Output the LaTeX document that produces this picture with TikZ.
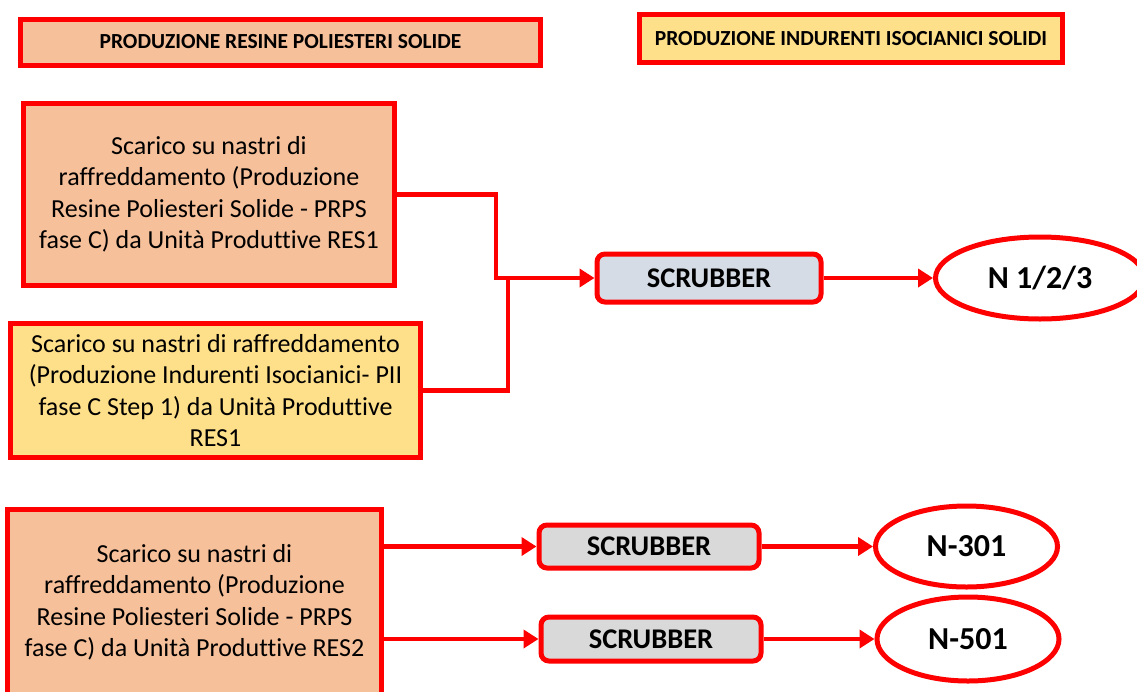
\documentclass[tikz,border=0pt]{standalone}
\usepackage{fontspec}
\setmainfont{Carlito}[Ligatures=NoCommon]
\usetikzlibrary{arrows.meta,shapes.geometric}
\definecolor{rd}{HTML}{FF0000}
\definecolor{peach}{HTML}{F6C09A}
\definecolor{gold}{HTML}{FFE08A}
\definecolor{bluegray}{HTML}{D6DCE5}
\definecolor{lgray}{HTML}{D9D9D9}
\tikzset{
  hdr/.style={draw=rd, line width=5pt, rectangle, inner sep=0pt,
    font=\fontsize{21.5}{26}\selectfont\bfseries},
  srcbox/.style={draw=rd, line width=5pt, rectangle, inner sep=0pt, align=center,
    font=\fontsize{26}{31.5}\selectfont},
  scrub/.style={draw=rd, line width=5pt, rectangle, rounded corners=8pt, inner sep=0pt,
    font=\fontsize{28.5}{32}\selectfont\bfseries},
  outlet/.style={draw=rd, line width=5pt, ellipse, inner sep=0pt, fill=white,
    font=\fontsize{32}{36}\selectfont\bfseries},
  conn/.style={draw=rd, line width=4.8pt},
  arr/.style={conn, -{Triangle[length=15pt,width=18pt]}}
}
\begin{document}
\begin{tikzpicture}[x=1pt,y=-1pt]
\useasboundingbox (0,0) rectangle (1137,691);
\fill[white] (0,0) rectangle (1137,691);
\clip (0,0) rectangle (1137,691);

\node[hdr, fill=peach, minimum width=520pt, minimum height=46pt] (h1) at (280.5,42) {PRODUZIONE RESINE POLIESTERI SOLIDE};
\node[hdr, fill=gold, minimum width=423pt, minimum height=48pt] (h2) at (851,38.5) {PRODUZIONE INDURENTI ISOCIANICI SOLIDI};

\node[srcbox, fill=peach, minimum width=371pt, minimum height=182pt] (b1) at (209,194.5)
  {Scarico su nastri di\\raffreddamento (Produzione\\Resine Poliesteri Solide - PRPS\\fase C) da Unità Produttive RES1};
\node[srcbox, fill=gold, minimum width=410pt, minimum height=134pt] (b2) at (215.5,390.5)
  {Scarico su nastri di raffreddamento\\(Produzione Indurenti Isocianici- PII\\fase C Step 1) da Unità Produttive\\RES1};
\node[srcbox, fill=peach, minimum width=374pt, minimum height=186pt] (b3) at (194.5,602.5)
  {Scarico su nastri di\\raffreddamento (Produzione\\Resine Poliesteri Solide - PRPS\\fase C) da Unità Produttive RES2};

\node[scrub, fill=bluegray, minimum width=224pt, minimum height=48pt] (s1) at (709,278) {SCRUBBER};
\node[scrub, fill=lgray, minimum width=220pt, minimum height=43pt] (s2) at (649,546.5) {SCRUBBER};
\node[scrub, fill=lgray, minimum width=220pt, minimum height=44pt] (s3) at (651,639) {SCRUBBER};

\node[outlet, minimum width=209pt, minimum height=82pt] (e1) at (1040,278) {N 1/2/3};
\node[outlet, minimum width=182pt, minimum height=81pt] (e2) at (966.5,546.5) {N-301};
\node[outlet, minimum width=182pt, minimum height=84pt] (e3) at (968,639) {N-501};

\coordinate (j1) at (496,278);
\coordinate (j2) at (508,278);

\draw[arr] (b1.east) -| (j1) -- (s1.west);
\draw[conn] (b2.east) -| (j2);
\draw[arr] (s1.east) -- (e1.west);

\draw[arr] (b3.east |- s2.west) -- (s2.west);
\draw[arr] (b3.east |- s3.west) -- (s3.west);
\draw[arr] (s2.east) -- (e2.west);
\draw[arr] (s3.east) -- (e3.west);
\end{tikzpicture}
\end{document}
